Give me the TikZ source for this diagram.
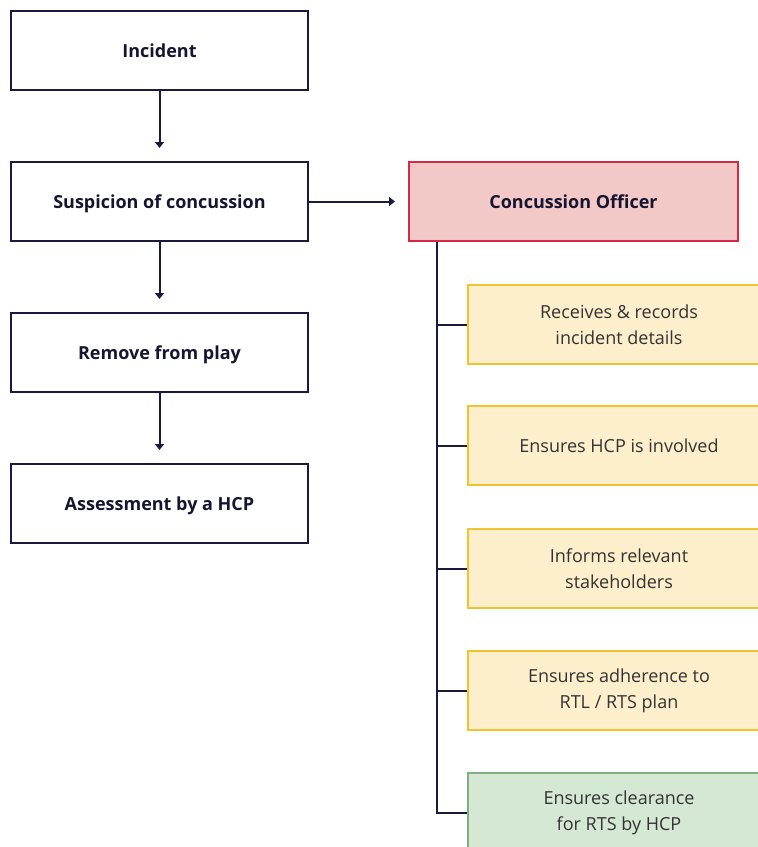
\documentclass[tikz,border=0pt]{standalone}
\usepackage{fontspec}
\setmainfont{Open Sans}
\usetikzlibrary{arrows.meta}
\definecolor{navy}{HTML}{1B1A3D}
\definecolor{txt}{HTML}{333333}
\definecolor{pinkfill}{HTML}{F2C9C6}
\definecolor{redline}{HTML}{D42A45}
\definecolor{yelfill}{HTML}{FDEFCB}
\definecolor{yelline}{HTML}{F0C330}
\definecolor{grnfill}{HTML}{D5E8D4}
\definecolor{grnline}{HTML}{7FB07F}
\tikzset{
  stepbox/.style={draw=navy, line width=2pt, fill=white, minimum width=297pt, minimum height=79pt, inner sep=0pt, text height=13pt, text depth=0pt, font=\fontsize{18}{22}\selectfont\bfseries, text=navy!80!black},
  officer/.style={draw=redline, line width=2pt, fill=pinkfill, minimum width=329pt, minimum height=79pt, inner sep=0pt, text height=13pt, text depth=0pt, font=\fontsize{18}{22}\selectfont\bfseries, text=navy!80!black},
  taskbox/.style={draw=yelline, line width=2pt, fill=yelfill, minimum width=302pt, minimum height=79pt, inner sep=0pt, align=center, font=\fontsize{18}{26}\selectfont, text=txt},
  greenbox/.style={draw=grnline, line width=1.2pt, fill=grnfill, minimum width=302pt, minimum height=79pt, inner sep=0pt, align=center, font=\fontsize{18}{26}\selectfont, text=txt},
  flow/.style={navy, line width=2pt, -{Triangle[length=6pt,width=9pt]}, shorten >=13pt},
  branch/.style={navy, line width=2pt}
}
\begin{document}
\begin{tikzpicture}[x=1pt,y=-1pt]
\useasboundingbox (0,0) rectangle (758,847);
\clip (0,0) rectangle (758,847);
\node[stepbox] (inc) at (159.5,50.5) {Incident};
\node[stepbox] (sus) at (159.5,201.5) {Suspicion of concussion};
\node[stepbox] (rem) at (159.5,352.5) {Remove from play};
\node[stepbox] (ass) at (159.5,503.5) {Assessment by a HCP};
\node[officer] (off) at (573.5,201.5) {Concussion Officer};
\node[taskbox] (t1) at (619,324.5) {Receives \& records\\incident details};
\node[taskbox] (t2) at (619,445.5) {Ensures HCP is involved};
\node[taskbox] (t3) at (619,568.5) {Informs relevant\\stakeholders};
\node[taskbox] (t4) at (619,690.5) {Ensures adherence to\\RTL / RTS plan};
\node[greenbox] (t5) at (619,812.5) {Ensures clearance\\for RTS by HCP};
\draw[flow] (inc) -- (sus);
\draw[flow] (sus) -- (rem);
\draw[flow] (rem) -- (ass);
\draw[flow] (sus) -- (off);
\coordinate (top) at (off.south -| 437,0);
\draw[branch] (top) |- (t5.west);
\foreach \t in {t1,t2,t3,t4} \draw[branch] (\t.west) -- (\t.west -| top);
\end{tikzpicture}
\end{document}
